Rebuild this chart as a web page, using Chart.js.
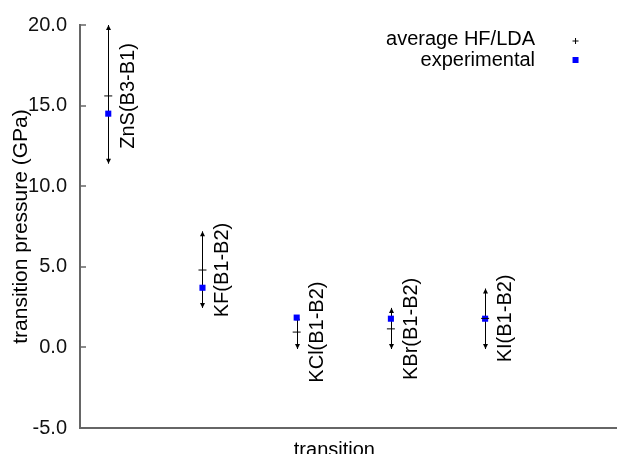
<!DOCTYPE html>
<html>
<head>
<meta charset="utf-8">
<script src="https://cdn.jsdelivr.net/npm/chart.js@4.4.1/dist/chart.umd.min.js"></script>
<style>
  html, body { margin: 0; padding: 0; background: #fff; }
  #wrap { width: 617px; height: 454px; }
</style>
</head>
<body>
<div id="wrap"><canvas id="pressChart"></canvas></div>
<script>
// transitions, in plot order
const transitions = ['ZnS(B3-B1)', 'KF(B1-B2)', 'KCl(B1-B2)', 'KBr(B1-B2)', 'KI(B1-B2)'];
const xPos = [1, 2, 3, 4, 5];
// average HF/LDA value and its range (GPa)
const avgHfLda = [15.6, 4.8, 0.95, 1.15, 1.8];
const rangeLow = [11.4, 2.45, -0.1, -0.1, -0.1];
const rangeHigh = [20.0, 7.2, 2.0, 2.45, 3.65];
// experimental values (GPa)
const experimental = [14.5, 3.7, 1.85, 1.78, 1.78];
const yTicks = [-5, 0, 5, 10, 15, 20];

const FONT = '"Liberation Sans", Arial, sans-serif';
const AXIS_COL = '#666666';

// vertical range with arrow heads, labels, inward ticks, key
const extras = {
    id: 'extras',
    beforeDatasetsDraw(chart) {
        const ctx = chart.ctx;
        const xs = chart.scales.x, ys = chart.scales.y;
        ctx.save();
        ctx.strokeStyle = '#000';
        ctx.fillStyle = '#000';
        ctx.lineWidth = 1;
        for (let i = 0; i < xPos.length; i++) {
            const px = Math.round(xs.getPixelForValue(xPos[i])) + 0.5;
            const top = ys.getPixelForValue(rangeHigh[i]);
            const bot = ys.getPixelForValue(rangeLow[i]);
            ctx.beginPath();
            ctx.moveTo(px, top);
            ctx.lineTo(px, bot);
            ctx.stroke();
            // arrow heads
            ctx.beginPath();
            ctx.moveTo(px, top);
            ctx.lineTo(px - 2.5, top + 5);
            ctx.lineTo(px + 2.5, top + 5);
            ctx.closePath();
            ctx.fill();
            ctx.beginPath();
            ctx.moveTo(px, bot);
            ctx.lineTo(px - 2.5, bot - 5);
            ctx.lineTo(px + 2.5, bot - 5);
            ctx.closePath();
            ctx.fill();
            // rotated name, centred on the average
            ctx.save();
            ctx.translate(px + 20, ys.getPixelForValue(avgHfLda[i]));
            ctx.rotate(-Math.PI / 2);
            ctx.font = '20px ' + FONT;
            ctx.textAlign = 'center';
            ctx.textBaseline = 'middle';
            ctx.fillText(transitions[i], 0, 0);
            ctx.restore();
        }
        ctx.restore();
    },
    afterDraw(chart) {
        const ctx = chart.ctx;
        const area = chart.chartArea;
        const xs = chart.scales.x, ys = chart.scales.y;
        ctx.save();
        // inward ticks on the y axis
        ctx.strokeStyle = AXIS_COL;
        ctx.lineWidth = 1.5;
        yTicks.forEach(v => {
            const py = Math.round(ys.getPixelForValue(v));
            ctx.beginPath();
            ctx.moveTo(area.left, py);
            ctx.lineTo(area.left + 6, py);
            ctx.stroke();
        });
        // x axis title
        ctx.fillStyle = '#000';
        ctx.font = '20px ' + FONT;
        ctx.textAlign = 'center';
        ctx.textBaseline = 'alphabetic';
        ctx.fillText('transition', xs.getPixelForValue(3.4), area.bottom + 28);
        // key
        const kx = xs.getPixelForValue(5.53);
        ctx.textAlign = 'right';
        ctx.fillText('average HF/LDA', kx, area.top + 20);
        ctx.fillText('experimental', kx, area.top + 41);
        const mx = kx + 40.5;
        ctx.strokeStyle = '#000';
        ctx.lineWidth = 1;
        ctx.beginPath();
        ctx.moveTo(mx - 3, area.top + 16);
        ctx.lineTo(mx + 3, area.top + 16);
        ctx.moveTo(mx, area.top + 13);
        ctx.lineTo(mx, area.top + 19);
        ctx.stroke();
        ctx.fillStyle = '#0000ff';
        ctx.fillRect(mx - 3, area.top + 32, 6, 6);
        ctx.restore();
    }
};

const ctx = document.getElementById('pressChart').getContext('2d');
new Chart(ctx, {
    type: 'scatter',
    data: {
        datasets: [
            {
                label: 'average HF/LDA',
                data: xPos.map((x, i) => ({ x: x, y: avgHfLda[i] })),
                pointStyle: 'line',
                pointRadius: 4,
                borderColor: '#000',
                backgroundColor: '#000',
                borderWidth: 1
            },
            {
                label: 'experimental',
                data: xPos.map((x, i) => ({ x: x, y: experimental[i] })),
                pointStyle: 'rect',
                pointRadius: 4.3,
                borderWidth: 0,
                backgroundColor: '#0000ff',
                borderColor: '#0000ff'
            }
        ]
    },
    options: {
        responsive: true,
        maintainAspectRatio: false,
        animation: false,
        layout: { autoPadding: false, padding: { top: 24, right: 0, bottom: 0, left: 0 } },
        plugins: {
            legend: { display: false },
            tooltip: { enabled: false }
        },
        scales: {
            x: {
                type: 'linear',
                min: 0.7,
                max: 6.4,
                ticks: { display: false },
                grid: { display: false, drawTicks: false },
                border: { display: true, color: AXIS_COL, width: 2 },
                afterFit(scale) { scale.height = 26; }
            },
            y: {
                min: -5,
                max: 20,
                afterBuildTicks(scale) { scale.ticks = yTicks.map(v => ({ value: v })); },
                ticks: {
                    color: '#111',
                    font: { family: FONT, size: 20 },
                    padding: 13,
                    callback: v => v.toFixed(1)
                },
                grid: { display: false, drawTicks: false },
                border: { display: true, color: AXIS_COL, width: 2 },
                title: {
                    display: true,
                    text: 'transition pressure (GPa)',
                    color: '#000',
                    font: { family: FONT, size: 21 },
                    padding: { top: 9, bottom: 0 }
                },
                afterFit(scale) { scale.width = 80; }
            }
        }
    },
    plugins: [extras]
});
</script>
</body>
</html>
